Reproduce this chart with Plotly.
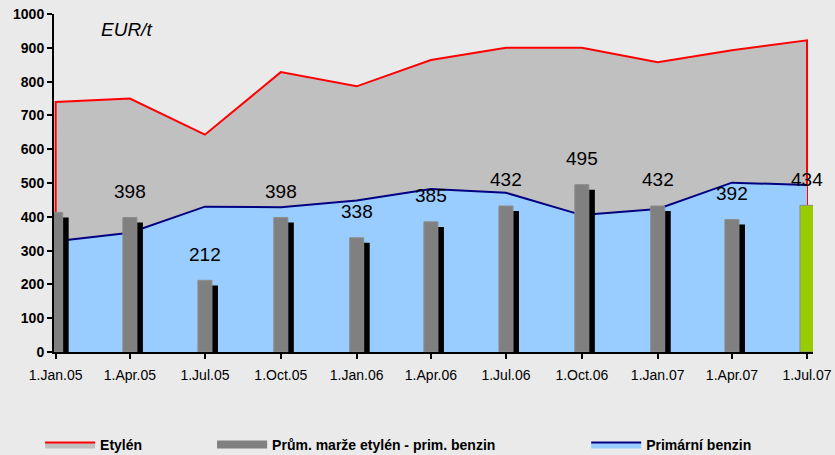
import plotly.graph_objects as go

# quarterly dates and tick labels
dates = ["2005-01-01", "2005-04-01", "2005-07-01", "2005-10-01", "2006-01-01",
         "2006-04-01", "2006-07-01", "2006-10-01", "2007-01-01", "2007-04-01",
         "2007-07-01"]
tick_labels = ["1.Jan.05", "1.Apr.05", "1.Jul.05", "1.Oct.05", "1.Jan.06",
               "1.Apr.06", "1.Jul.06", "1.Oct.06", "1.Jan.07", "1.Apr.07",
               "1.Jul.07"]

# EUR/t
etylen = [740, 750, 643, 828, 786, 864, 900, 900, 857, 893, 922]
benzin = [328, 353, 430, 428, 448, 482, 471, 405, 423, 501, 494]
marze = [413, 398, 212, 398, 338, 385, 432, 495, 432, 392, 434]
marze_labels = ["", "398", "212", "398", "338", "385", "432", "495", "432", "392", "434"]

FONT = "Liberation Sans, Arial, sans-serif"
DAY = 86400000

bar_colors = ["#808080"] * (len(marze) - 1) + ["#99CC00"]

fig = go.Figure()

# ethylene area (closed polygon so the red border runs down both ends)
fig.add_trace(go.Scatter(
    x=[dates[0]] + dates + [dates[-1]],
    y=[0] + etylen + [0],
    mode="lines",
    fill="toself",
    fillcolor="#C0C0C0",
    line=dict(color="#FF0000", width=2),
    name="Etylén",
    legend="legend",
    hoverinfo="skip",
))

fig.add_trace(go.Scatter(
    x=dates,
    y=benzin,
    mode="lines",
    fill="tozeroy",
    fillcolor="#99CCFF",
    line=dict(color="#000080", width=2),
    name="Primární benzin",
    legend="legend3",
))

# legend entry for the bars (wide box instead of plotly's small square)
fig.add_trace(go.Scatter(
    x=[None], y=[None],
    mode="lines",
    fill="toself",
    fillcolor="#808080",
    line=dict(color="#808080", width=4),
    name="Prům. marže etylén - prim. benzin",
    legend="legend2",
))

# bar shadow
fig.add_trace(go.Bar(
    x=dates,
    y=marze,
    base=-15,
    width=17 * DAY,
    offset=-1.2 * DAY,
    marker=dict(color="#000000", line=dict(width=0)),
    showlegend=False,
    hoverinfo="skip",
    xaxis="x2",
    yaxis="y2",
))

fig.add_trace(go.Bar(
    x=dates,
    y=marze,
    width=17 * DAY,
    offset=-8.5 * DAY,
    marker=dict(color=bar_colors, line=dict(color="#8C8C8C", width=1)),
    name="Prům. marže etylén - prim. benzin",
    showlegend=False,
    xaxis="x2",
    yaxis="y2",
))

for d, v, t in zip(dates, marze, marze_labels):
    if t:
        fig.add_annotation(
            x=d, y=v, xref="x2", yref="y2", text=t, showarrow=False,
            yshift=26, font=dict(family=FONT, size=19, color="#000000"),
        )

fig.add_annotation(
    x=0.059, y=0.953, xref="paper", yref="paper", text="<i>EUR/t</i>",
    showarrow=False, xanchor="left", yanchor="middle",
    font=dict(family=FONT, size=19, color="#000000"),
)

x_range = ["2004-12-30", "2007-07-08 07:00"]
axis_common = dict(showgrid=False, zeroline=False, showline=True,
                   linecolor="#000000", linewidth=2, automargin=False)

legend_common = dict(orientation="h", xref="container", yref="container",
                     yanchor="middle", y=0.022, xanchor="left",
                     bgcolor="rgba(0,0,0,0)", itemwidth=50,
                     font=dict(family=FONT, size=14, color="#000000", weight="bold"))

fig.update_layout(
    width=835,
    height=455,
    margin=dict(l=54, r=22, t=14, b=103),
    paper_bgcolor="#EAEAEA",
    plot_bgcolor="#EAEAEA",
    barmode="overlay",
    xaxis=dict(
        type="date", range=x_range, tickvals=dates, ticktext=tick_labels,
        ticks="outside", ticklen=5, tickwidth=1.5, tickcolor="#000000",
        ticklabelstandoff=4,
        tickfont=dict(family=FONT, size=14, color="#000000"),
        **axis_common,
    ),
    yaxis=dict(
        range=[0, 1000], dtick=100, ticks="outside", ticklen=5, tickwidth=1.5,
        tickcolor="#000000",
        tickfont=dict(family=FONT, size=14, color="#000000", weight="bold"),
        **axis_common,
    ),
    xaxis2=dict(
        type="date", range=x_range, overlaying="x", anchor="y2",
        showticklabels=False, ticks="", **axis_common,
    ),
    yaxis2=dict(range=[0, 1000], overlaying="y", anchor="x2", visible=False,
                automargin=False),
    legend=dict(x=0.048, **legend_common),
    legend2=dict(x=0.254, **legend_common),
    legend3=dict(x=0.702, **legend_common),
)

# drop the browser's default page margin so the chart fills the window
fig.write_html(
    "out.html",
    config={"displayModeBar": False},
    post_script="document.body.style.margin = '0px';",
)
